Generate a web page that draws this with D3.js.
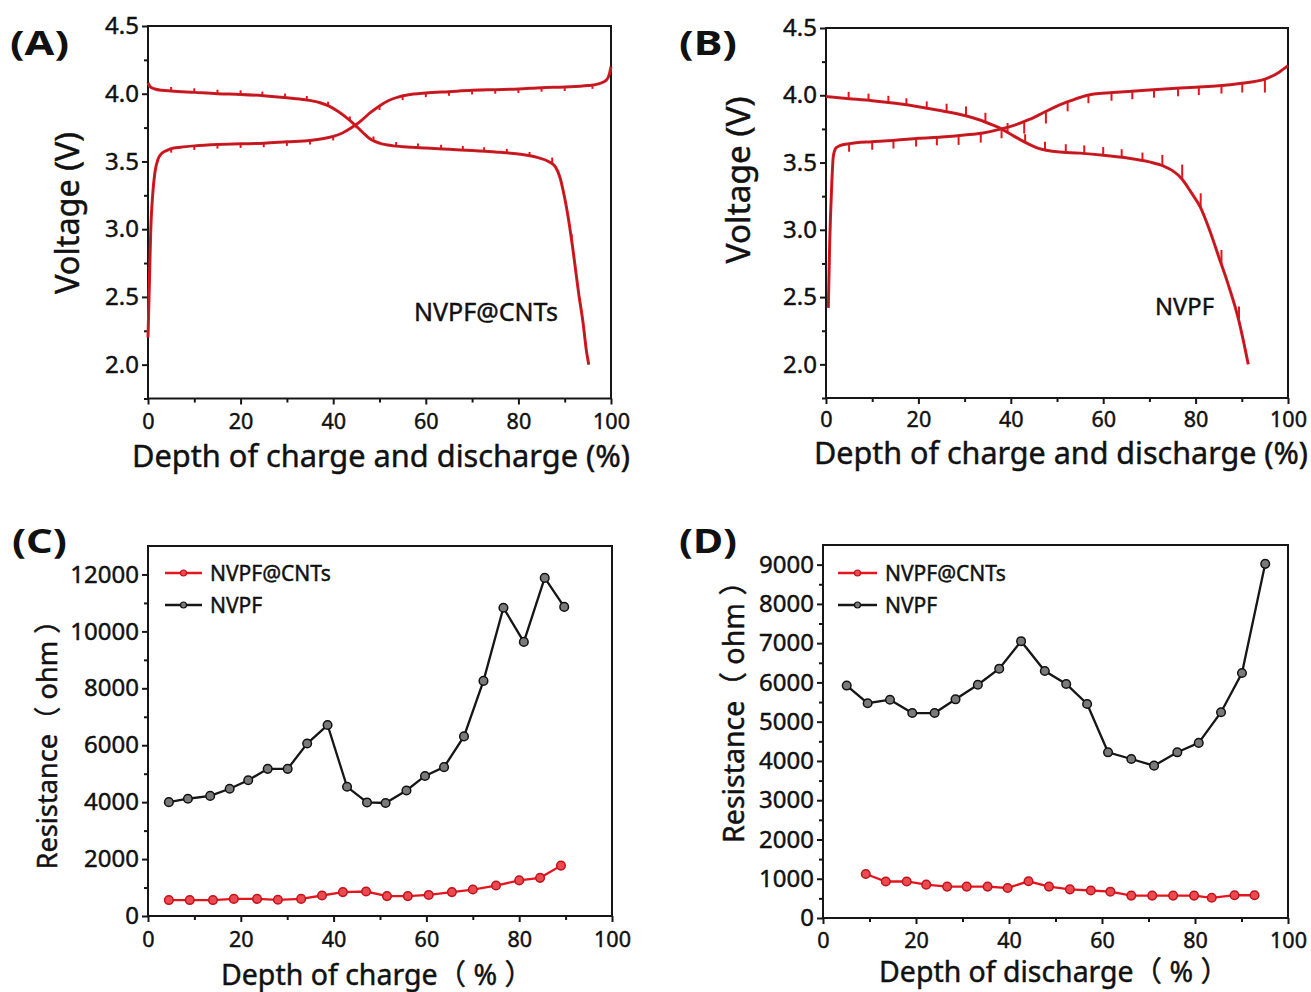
<!DOCTYPE html>
<html><head><meta charset="utf-8">
<script src="https://cdn.jsdelivr.net/npm/d3@7"></script>
<style>
body{margin:0;background:#fff;}
svg{display:block;font-family:"Noto Sans","Open Sans","Noto Sans CJK SC",sans-serif;}
.heavy{stroke:#111;stroke-width:0.45px;paint-order:stroke;}
</style></head><body>
<svg id="fig" width="1311" height="992"></svg>
<script>
// ---------------- DATA ----------------
// (A) NVPF@CNTs voltage profiles: [depth %, voltage V]
const chargeA = [[0,2.2],[0.3,2.6],[0.6,3.0],[1.0,3.25],[1.5,3.42],[2.2,3.52],[3,3.56],[4,3.58],[5,3.595],[7,3.605],[10,3.615],[15,3.625],[20,3.63],[25,3.635],[30,3.645],[35,3.655],[38,3.67],[40,3.685],[42,3.71],[44,3.75],[46,3.8],[48,3.86],[50,3.91],[52,3.95],[54,3.975],[56,3.99],[60,4.005],[65,4.015],[70,4.025],[75,4.03],[80,4.035],[85,4.045],[90,4.05],[95,4.06],[97.5,4.075],[99,4.1],[99.7,4.15],[100,4.2]];
const dischargeA = [[0,4.08],[0.5,4.05],[1.5,4.035],[3,4.025],[5,4.02],[10,4.01],[15,4.0],[20,3.995],[25,3.985],[30,3.97],[34,3.955],[37,3.935],[39,3.91],[41,3.87],[43,3.82],[45,3.76],[46.5,3.71],[48,3.665],[50,3.635],[53,3.615],[57,3.605],[60,3.6],[65,3.59],[70,3.58],[75,3.57],[80,3.555],[84,3.53],[86.5,3.5],[88,3.46],[89,3.38],[89.7,3.28],[90.6,3.12],[91.7,2.87],[93,2.53],[94,2.3],[94.7,2.1],[95.2,2.0]];
// relaxation spikes [depth %, spike height V]
const spikesChargeA = [[5,0.03],[10,0.03],[15,0.03],[20,0.03],[25,0.03],[30,0.03],[35,0.03],[40,0.03],[45,0.03],[50,0.03],[55,0.03],[60,0.03],[65,0.03],[70,0.03],[75,0.03],[80,0.03],[85,0.03],[90,0.03],[96,0.03]];
const spikesDischargeA = [[5,0.03],[10,0.03],[15,0.03],[20,0.03],[24.7,0.03],[29.6,0.03],[34.3,0.03],[38.9,0.03],[43.6,0.03],[48.7,0.03],[53.6,0.03],[58.3,0.03],[63.3,0.03],[68,0.03],[72.6,0.03],[77.5,0.03],[82.4,0.03],[87.3,0.05],[91.5,0.05]];

// (B) NVPF voltage profiles
const chargeB = [[0.5,2.42],[0.8,2.9],[1.2,3.3],[1.6,3.55],[2.2,3.61],[3,3.625],[5,3.64],[10,3.655],[15,3.665],[20,3.68],[25,3.69],[30,3.705],[34,3.72],[38,3.75],[41,3.78],[44,3.82],[47,3.87],[50,3.92],[53,3.96],[56,3.995],[58,4.01],[62,4.02],[70,4.04],[80,4.06],[85,4.07],[90,4.09],[95,4.12],[98,4.17],[100,4.22]];
const dischargeB = [[0,3.99],[5,3.975],[10,3.96],[15,3.94],[20,3.915],[25,3.885],[30,3.85],[33,3.82],[36,3.78],[38,3.75],[40,3.71],[42,3.67],[44,3.635],[46,3.605],[48,3.59],[50,3.58],[55,3.57],[60,3.555],[65,3.535],[70,3.505],[73,3.475],[75,3.44],[77,3.38],[79,3.28],[81,3.17],[83,3.0],[85,2.8],[87,2.6],[89.4,2.32],[90.5,2.15],[91.4,2.0]];
const spikesChargeB = [[5,0.06],[10,0.06],[14.6,0.06],[19.5,0.06],[24,0.06],[28.7,0.07],[33.5,0.07],[38,0.07],[42.9,0.09],[47.6,0.09],[52.3,0.07],[56.8,0.06],[61.8,0.06],[66.3,0.06],[71,0.06],[76.2,0.06],[80.7,0.06],[85.6,0.06],[90.1,0.07],[95,0.1]];
const spikesDischargeB = [[4.9,0.05],[9.2,0.05],[13.5,0.05],[17.4,0.05],[21.8,0.05],[26.1,0.06],[30.3,0.07],[34.5,0.07],[39.3,0.07],[43.1,0.06],[47.4,0.06],[51.9,0.06],[55.9,0.06],[60,0.06],[64,0.06],[68.5,0.06],[72.8,0.08],[77.1,0.11],[81.1,0.11],[85.6,0.11],[89.4,0.11]];

// (C) resistance vs depth of charge
const depthC_NVPF = [4.5,8.6,13.4,17.6,21.6,25.8,30.1,34.3,38.7,42.9,47.2,51.2,55.7,59.7,63.8,68.1,72.3,76.6,81.0,85.5,89.7];
const resC_NVPF = [4000,4120,4220,4470,4770,5170,5170,6060,6710,4540,3990,3970,4410,4920,5230,6310,8260,10830,9630,11880,10860];
const depthC_CNT = [4.5,9,14,18.5,23.5,28,33,37.5,42,47,51.5,56,60.5,65.5,70,75,80,84.5,89];
const resC_CNT = [560,560,560,600,600,570,600,720,840,860,700,700,740,840,930,1070,1250,1340,1770];

// (D) resistance vs depth of discharge
const depthD_NVPF = [5.1,9.6,14.4,19.2,24.0,28.5,33.3,37.9,42.6,47.7,52.3,56.8,61.3,66.3,71.2,76.2,80.8,85.6,90.1,95.1];
const resD_NVPF = [5920,5470,5560,5220,5220,5570,5940,6350,7050,6290,5960,5450,4220,4050,3880,4220,4460,5240,6240,9020];
const depthD_CNT = [9.2,13.5,18.0,22.2,26.7,30.9,35.4,39.7,44.2,48.6,53.1,57.6,61.8,66.3,70.8,75.3,79.8,83.6,88.5,92.8];
const resD_CNT = [1120,930,930,850,800,800,800,765,935,800,730,700,670,570,570,570,570,515,580,580];

// tick values
const xTicks = [0,20,40,60,80,100];
const xMinor = [10,30,50,70,90];
const vTicks = [2.0,2.5,3.0,3.5,4.0,4.5];
const vMinor = [1.75,2.25,2.75,3.25,3.75,4.25];
const rTicksC = [0,2000,4000,6000,8000,10000,12000];
const rMinorC = [1000,3000,5000,7000,9000,11000];
const rTicksD = [0,1000,2000,3000,4000,5000,6000,7000,8000,9000];
const rMinorD = [500,1500,2500,3500,4500,5500,6500,7500,8500];

const seriesNames = ["NVPF@CNTs","NVPF"];

// ---------------- DRAW ----------------
const svg = d3.select("#fig");
const INK = "#161616";
const RED = "#e3161f";

function fitWidth(sel, w){
  const cur = sel.node().getComputedTextLength();
  const fs = parseFloat(sel.attr("font-size"));
  sel.attr("font-size", (fs*w/cur).toFixed(2));
}

function frame(cfg){
  const g = svg.append("g");
  const x = d3.scaleLinear().domain([0,100]).range([cfg.left,cfg.right]);
  const y = d3.scaleLinear().domain(cfg.yDomain).range([cfg.bottom,cfg.top]);
  // minor ticks
  g.append("g").attr("transform",`translate(0,${cfg.bottom})`)
    .call(d3.axisBottom(x).tickValues(xMinor).tickSize(4).tickFormat(""));
  g.append("g").attr("transform",`translate(${cfg.left},0)`)
    .call(d3.axisLeft(y).tickValues(cfg.yMinor).tickSize(4).tickFormat(""));
  // major ticks
  const xa = g.append("g").attr("transform",`translate(0,${cfg.bottom})`)
    .call(d3.axisBottom(x).tickValues(xTicks).tickSize(6).tickPadding(cfg.xPad).tickFormat(d3.format("d")));
  const ya = g.append("g").attr("transform",`translate(${cfg.left},0)`)
    .call(d3.axisLeft(y).tickValues(cfg.yTicks).tickSize(6).tickPadding(3).tickFormat(cfg.yFmt));
  g.selectAll(".domain").remove();
  g.selectAll(".tick line").attr("stroke",INK).attr("stroke-width",2);
  g.selectAll("g").attr("font-family",null);
  xa.selectAll("text").attr("font-size",21.5).attr("fill","#111").attr("class","heavy");
  ya.selectAll("text").attr("font-size",24).attr("fill","#111").attr("class","heavy");
  // frame box
  g.append("rect").attr("x",cfg.left).attr("y",cfg.top)
    .attr("width",cfg.right-cfg.left).attr("height",cfg.bottom-cfg.top)
    .attr("fill","none").attr("stroke",INK).attr("stroke-width",2);
  // panel letter
  svg.append("text").attr("x",cfg.lab[0]).attr("y",cfg.lab[1]).text(cfg.letter)
    .attr("font-size",34).attr("font-weight","bold").attr("fill","#111")
    .attr("textLength",cfg.lab[2]).attr("lengthAdjust","spacingAndGlyphs");
  // x title
  const xt = svg.append("text").attr("x",cfg.xt[0]).attr("y",cfg.xt[1]).attr("text-anchor","middle")
    .attr("font-size",28).attr("fill","#111").attr("class","heavy").text(cfg.xTitle);
  fitWidth(xt, cfg.xt[2]);
  // y title
  const yt = svg.append("text").attr("transform",`translate(${cfg.yt[0]},${cfg.yt[1]}) rotate(-90)`)
    .attr("text-anchor","middle").attr("font-size",28).attr("fill","#111").attr("class","heavy").text(cfg.yTitle);
  fitWidth(yt, cfg.yt[2]);
  return {g,x,y};
}

function interp(data, xv){
  const i = d3.bisector(d=>d[0]).left(data, xv);
  if(i<=0) return data[0][1];
  if(i>=data.length) return data[data.length-1][1];
  const a=data[i-1], b=data[i];
  return a[1]+(b[1]-a[1])*(xv-a[0])/(b[0]-a[0]);
}

function voltagePanel(cfg, charge, discharge, spC, spD, label){
  const {g,x,y} = frame(cfg);
  const line = d3.line().x(d=>x(d[0])).y(d=>y(d[1])).curve(d3.curveMonotoneX);
  const plot = g.append("g");
  // spikes: charge relaxes downward, discharge relaxes upward
  const segs = spC.map(s=>{const v=interp(charge,s[0]);return [s[0],v,v-s[1]];})
    .concat(spD.map(s=>{const v=interp(discharge,s[0]);return [s[0],v,v+s[1]];}));
  plot.selectAll("line.sp").data(segs).join("line").attr("class","sp")
    .attr("x1",d=>x(d[0])).attr("x2",d=>x(d[0]))
    .attr("y1",d=>y(d[1])).attr("y2",d=>y(d[2]))
    .attr("stroke",RED).attr("stroke-width",2);
  [charge,discharge].forEach(dat=>{
    plot.append("path").attr("d",line(dat)).attr("fill","none").attr("stroke",RED).attr("stroke-width",3).attr("stroke-linejoin","round");
    plot.append("path").attr("d",line(dat)).attr("fill","none").attr("stroke","#5a2c2c").attr("stroke-width",0.9).attr("stroke-opacity",0.6);
  });
  const t = svg.append("text").attr("x",label[0]).attr("y",label[1]).attr("font-size",24).attr("fill","#111").attr("class","heavy").text(label[3]);
  fitWidth(t,label[2]);
}

function resistancePanel(cfg, xs1, ys1, xs2, ys2, leg){
  const {g,x,y} = frame(cfg);
  const line = d3.line().x(d=>x(d[0])).y(d=>y(d[1]));
  const s = [
    {pts:d3.zip(xs2,ys2), stroke:INK, fill:"#7a7a7a", mstroke:"#111"},
    {pts:d3.zip(xs1,ys1), stroke:RED, fill:"#ea4a50", mstroke:"#c2131b"}
  ];
  s.forEach(se=>{
    g.append("path").attr("d",line(se.pts)).attr("fill","none").attr("stroke",se.stroke).attr("stroke-width",2.3);
    g.append("g").selectAll("circle").data(se.pts).join("circle")
      .attr("cx",d=>x(d[0])).attr("cy",d=>y(d[1])).attr("r",4.3)
      .attr("fill",se.fill).attr("stroke",se.mstroke).attr("stroke-width",1.5);
  });
  // legend
  const items = [{name:seriesNames[0],c:RED,f:"#ea4a50",m:"#c2131b",yy:leg[2]},{name:seriesNames[1],c:INK,f:"#7a7a7a",m:"#111",yy:leg[3]}];
  items.forEach(it=>{
    svg.append("line").attr("x1",leg[0]).attr("x2",leg[1]).attr("y1",it.yy).attr("y2",it.yy).attr("stroke",it.c).attr("stroke-width",2.4);
    svg.append("circle").attr("cx",(leg[0]+leg[1])/2).attr("cy",it.yy).attr("r",3).attr("fill",it.f).attr("stroke",it.m).attr("stroke-width",1.2);
    const t = svg.append("text").attr("x",leg[1]+8).attr("y",it.yy).attr("dy","0.36em").attr("font-size",21).attr("fill","#111").attr("class","heavy").text(it.name);
  });
}

const fmtV = d3.format(".1f"), fmtR = d3.format("d");

voltagePanel({left:148,right:611,top:26,bottom:398.5,yDomain:[1.75,4.5],yTicks:vTicks,yMinor:vMinor,yFmt:fmtV,xPad:9,
  letter:"(A)",lab:[10,55,59],xTitle:"Depth of charge and discharge (%)",xt:[381,467,498],yTitle:"Voltage (V)",yt:[79,213,162]},
  chargeA, dischargeA, spikesChargeA, spikesDischargeA, [414,321,144,"NVPF@CNTs"]);

voltagePanel({left:826,right:1288,top:28,bottom:398,yDomain:[1.75,4.5],yTicks:vTicks,yMinor:vMinor,yFmt:fmtV,xPad:8,
  letter:"(B)",lab:[679,55,58],xTitle:"Depth of charge and discharge (%)",xt:[1061,464,494],yTitle:"Voltage (V)",yt:[750,180,167]},
  chargeB, dischargeB, spikesChargeB, spikesDischargeB, [1155,315,59,"NVPF"]);

resistancePanel({left:148,right:612,top:546,bottom:916,yDomain:[0,13000],yTicks:rTicksC,yMinor:rMinorC,yFmt:fmtR,xPad:10,
  letter:"(C)",lab:[12,553,55],xTitle:"Depth of charge（ % ）",xt:[377,985,312],yTitle:"Resistance（ ohm ）",yt:[57,738,263]},
  depthC_CNT, resC_CNT, depthC_NVPF, resC_NVPF, [165,202,573,605]);

resistancePanel({left:823,right:1288,top:545,bottom:918,yDomain:[0,9500],yTicks:rTicksD,yMinor:rMinorD,yFmt:fmtR,xPad:9,
  letter:"(D)",lab:[679,553,58],xTitle:"Depth of discharge（ % ）",xt:[1054,982,350],yTitle:"Resistance（ ohm ）",yt:[744,705,276]},
  depthD_CNT, resD_CNT, depthD_NVPF, resD_NVPF, [838,877,573,605]);
</script>
</body></html>
